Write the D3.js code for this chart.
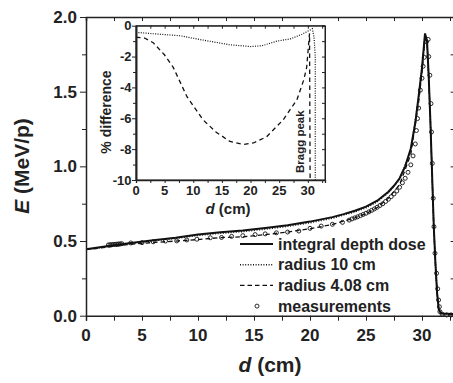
<!DOCTYPE html>
<html lang="en">
<head>
<meta charset="UTF-8">
<title>Depth dose with inset</title>
<script src="https://d3js.org/d3.v7.min.js"></script>
<style>
  body { margin: 0; background: #fff; }
  svg { display: block; font-family: "Liberation Sans", Arial, sans-serif; font-weight: bold; }
  .axis line, .axis path { stroke: #222; }
</style>
</head>
<body>
<svg width="453" height="383"></svg>
<script>
// main panel data: [depth cm, E MeV/p]
const integralDose = [[0,0.445],[2,0.466],[4,0.487],[6,0.505],[8,0.522],[10,0.543],[12,0.558],[14,0.570],[16,0.587],[18,0.606],[20,0.630],[21,0.645],[22,0.660],[23,0.680],[24,0.703],[25,0.730],[26,0.770],[27,0.830],[27.5,0.870],[28,0.920],[28.5,1.0],[29,1.12],[29.4,1.29],[29.7,1.47],[30,1.66],[30.27,1.89],[30.45,1.84],[30.6,1.6],[30.75,1.3],[30.9,0.95],[31.05,0.6],[31.2,0.35],[31.35,0.15],[31.5,0.04],[31.7,0.015],[33,0.01]];
const radius10 = [[0,0.443],[2,0.463],[4,0.484],[6,0.501],[8,0.517],[10,0.537],[12,0.551],[14,0.563],[16,0.579],[18,0.598],[20,0.622],[22,0.652],[24,0.695],[25,0.722],[26,0.762],[27,0.822],[28,0.912],[29,1.11],[29.7,1.46],[30,1.65],[30.27,1.885],[30.45,1.83],[30.6,1.6],[30.75,1.3],[30.9,0.95],[31.05,0.6],[31.2,0.35],[31.35,0.15],[31.5,0.04],[31.7,0.015],[33,0.01]];
const radius408 = [[0,0.442],[2,0.460],[4,0.478],[6,0.490],[8,0.500],[10,0.510],[12,0.523],[14,0.528],[16,0.543],[18,0.560],[20,0.582],[22,0.611],[24,0.655],[25,0.683],[26,0.724],[27,0.787],[28,0.877],[29,1.08],[29.7,1.43],[30,1.63],[30.27,1.87],[30.45,1.83],[30.6,1.6],[30.75,1.3],[30.9,0.95],[31.05,0.6],[31.2,0.35],[31.35,0.15],[31.5,0.04],[31.7,0.015],[33,0.01]];
const measured = [[2.0,0.474],[2.15,0.475],[2.3,0.476],[2.45,0.477],[2.6,0.478],[2.75,0.479],[2.9,0.480],[3.05,0.481],[3.2,0.482],[4.0,0.487],[5.0,0.489],[6.0,0.495],[7.1,0.500],[8.1,0.501],[9.0,0.507],[9.9,0.512],[11.1,0.522],[12.1,0.524],[13.0,0.531],[14.0,0.536],[15.1,0.543],[16.0,0.548],[17.0,0.555],[18.0,0.560],[19.0,0.567],[20.0,0.585],[21.0,0.600],[22.0,0.612],[22.9,0.625],[23.5,0.640],[23.75,0.648],[24,0.655],[24.25,0.662],[24.5,0.670],[24.75,0.678],[25,0.686],[25.25,0.695],[25.5,0.705],[25.75,0.715],[26,0.726],[26.25,0.738],[26.5,0.750],[26.75,0.765],[27,0.780],[27.25,0.797],[27.5,0.815],[27.75,0.835],[28,0.860],[28.25,0.890],[28.5,0.920],[28.75,0.960],[29,1.01],[29.2,1.07],[29.4,1.15],[29.5,1.24],[29.6,1.32],[29.7,1.39],[29.85,1.51],[30,1.59],[30.1,1.67],[30.2,1.73],[30.4,1.835],[30.55,1.85],[30.6,1.735],[30.7,1.61],[30.8,1.42],[30.85,1.23],[30.92,1.02],[31.0,0.786],[31.07,0.596],[31.16,0.418],[31.3,0.284],[31.4,0.18],[31.48,0.105],[31.55,0.06],[31.6,0.027],[31.8,0.01],[32.2,0.005],[32.6,0.005]];

// inset data: [depth cm, % difference]
const diffRadius10 = [[0,-0.43],[3,-0.52],[7.7,-0.65],[11.2,-0.9],[16.4,-1.24],[20,-1.35],[22,-1.3],[24.6,-1.0],[27,-0.85],[29,-0.55],[30.4,-0.28],[30.8,-0.2],[31.1,-0.8],[31.3,-2],[31.3,-10]];
const diffRadius408 = [[0,-0.75],[1.5,-0.8],[3,-1.1],[5,-1.9],[6.5,-2.7],[8.9,-4.6],[11.7,-6.1],[14,-6.9],[16.4,-7.5],[18.7,-7.7],[20.5,-7.6],[22.8,-7.2],[25.7,-6.1],[28.1,-4.8],[29.3,-3.5],[29.8,-2.7],[30.3,-0.5],[30.4,-10]];

const legendLabels = ["integral depth dose", "radius 10 cm", "radius 4.08 cm", "measurements"];

const svg = d3.select("svg");

// main panel
const x = d3.scaleLinear().domain([0, 33]).range([86, 455.6]);
const y = d3.scaleLinear().domain([0, 2]).range([315.7, 17]);

const line = d3.line().x(d => x(d[0])).y(d => y(d[1]));

const styles = [
  { data: integralDose, width: 2, dash: null },
  { data: radius10, width: 1.4, dash: "1,1.6" },
  { data: radius408, width: 1.3, dash: "4.5,3" }
];

styles.forEach(s => {
  svg.append("path").datum(s.data)
    .attr("d", line)
    .attr("fill", "none")
    .attr("stroke", "#111")
    .attr("stroke-width", s.width)
    .attr("stroke-dasharray", s.dash);
});

svg.append("g").selectAll("circle")
  .data(measured)
  .enter().append("circle")
  .attr("cx", d => x(d[0]))
  .attr("cy", d => y(d[1]))
  .attr("r", 2)
  .attr("fill", "none")
  .attr("stroke", "#111")
  .attr("stroke-width", 0.9);

// axes for main panel
const xTicks = d3.range(0, 33, 5);
const xMinor = d3.range(0, 33.1, 2.5);
const yTicks = d3.range(0, 2.01, 0.5);
const yMinor = d3.range(0, 2.01, 0.25);

const gx = svg.append("g").attr("class", "axis").attr("transform", `translate(0,${y(0)})`)
  .call(d3.axisBottom(x).tickValues(xMinor).tickSize(5).tickFormat(""));
gx.select(".domain").attr("stroke-width", 1.5);
svg.append("g").attr("transform", `translate(0,${y(0)})`)
  .selectAll("text").data(xTicks).enter().append("text")
  .attr("x", d => x(d)).attr("y", 25)
  .attr("text-anchor", "middle")
  .attr("font-size", 17).attr("fill", "#222")
  .text(d => d);

const gy = svg.append("g").attr("class", "axis").attr("transform", `translate(${x(0)},0)`)
  .call(d3.axisLeft(y).tickValues(yMinor).tickSize(0).tickFormat(""));
gy.select(".domain").attr("stroke-width", 1.5);
gy.selectAll(".tick line").attr("x2", (d, i) => i % 2 === 0 ? -6 : -4);
svg.append("g").selectAll("text").data(yTicks).enter().append("text")
  .attr("x", 77).attr("y", d => y(d) + 6)
  .attr("text-anchor", "end")
  .attr("font-size", 17).attr("fill", "#222")
  .text(d => d3.format(".1f")(d));

const gtop = svg.append("g").attr("class", "axis").attr("transform", `translate(0,${y(2)})`)
  .call(d3.axisBottom(x).tickValues(xMinor).tickSize(4).tickFormat(""));
gtop.select(".domain").attr("stroke-width", 1.5);

svg.append("g").attr("class", "axis").attr("transform", `translate(${x(33)},0)`)
  .call(d3.axisLeft(y).tickValues(yMinor).tickSize(5).tickFormat(""));

// axis titles
const xTitle = svg.append("text")
  .attr("x", 270).attr("y", 372)
  .attr("text-anchor", "middle")
  .attr("font-size", 21).attr("fill", "#222");
xTitle.append("tspan").attr("font-style", "italic").text("d");
xTitle.append("tspan").text(" (cm)");

const yTitle = svg.append("text")
  .attr("transform", "translate(29,166) rotate(-90)")
  .attr("text-anchor", "middle")
  .attr("font-size", 21).attr("fill", "#222");
yTitle.append("tspan").attr("font-style", "italic").text("E");
yTitle.append("tspan").text(" (MeV/p)");

// legend
const legend = svg.append("g");
legendLabels.forEach((label, i) => {
  const ly = 244 + i * 20.7;
  if (i < 3) {
    legend.append("line")
      .attr("x1", 240).attr("x2", 273).attr("y1", ly).attr("y2", ly)
      .attr("stroke", "#111")
      .attr("stroke-width", styles[i].width)
      .attr("stroke-dasharray", styles[i].dash);
  } else {
    legend.append("circle").attr("cx", 257).attr("cy", ly).attr("r", 2)
      .attr("fill", "none").attr("stroke", "#111").attr("stroke-width", 0.9);
  }
  legend.append("text")
    .attr("x", 278).attr("y", ly + 5.5)
    .attr("font-size", 16).attr("fill", "#222")
    .text(label);
});

// inset panel
const ix = d3.scaleLinear().domain([0, 33]).range([136, 325]);
const iy = d3.scaleLinear().domain([-10, 0]).range([180, 25.7]);
const iline = d3.line().x(d => ix(d[0])).y(d => iy(d[1]));

svg.append("rect")
  .attr("x", ix(0)).attr("y", iy(0))
  .attr("width", ix(33) - ix(0)).attr("height", iy(-10) - iy(0))
  .attr("fill", "#fff").attr("stroke", "#222").attr("stroke-width", 1);

svg.append("path").datum(diffRadius10)
  .attr("d", iline).attr("fill", "none")
  .attr("stroke", "#111").attr("stroke-width", 1.2).attr("stroke-dasharray", "1,1.4");
svg.append("path").datum(diffRadius408)
  .attr("d", iline).attr("fill", "none")
  .attr("stroke", "#111").attr("stroke-width", 1.3).attr("stroke-dasharray", "4.5,3.5");

const ixTicks = d3.range(0, 31, 5);
const ixMinor = d3.range(0, 33.1, 2.5);
const iyTicks = d3.range(-10, 0.1, 2);
const iyMinor = d3.range(-10, 0.1, 1);

svg.append("g").attr("class", "axis").attr("transform", `translate(0,${iy(-10)})`)
  .call(d3.axisBottom(ix).tickValues(ixMinor).tickSize(3).tickFormat(""))
  .select(".domain").attr("stroke-width", 1.3);
svg.append("g").attr("class", "axis").attr("transform", `translate(0,${iy(0)})`)
  .call(d3.axisBottom(ix).tickValues(ixMinor).tickSize(3).tickFormat(""));
const giy = svg.append("g").attr("class", "axis").attr("transform", `translate(${ix(0)},0)`)
  .call(d3.axisLeft(iy).tickValues(iyMinor).tickSize(0).tickFormat(""));
giy.select(".domain").attr("stroke", "#666").attr("stroke-width", 2);
giy.selectAll(".tick line").attr("x2", (d, i) => i % 2 === 0 ? -4 : -3);
svg.append("g").attr("class", "axis").attr("transform", `translate(${ix(33)},0)`)
  .call(d3.axisLeft(iy).tickValues(iyMinor).tickSize(3).tickFormat(""));

svg.append("g").selectAll("text").data(ixTicks).enter().append("text")
  .attr("x", d => ix(d)).attr("y", 195)
  .attr("text-anchor", "middle")
  .attr("font-size", 13).attr("fill", "#222")
  .text(d => d);
svg.append("g").selectAll("text").data(iyTicks).enter().append("text")
  .attr("x", 131.5).attr("y", d => iy(d) + 4.5)
  .attr("text-anchor", "end")
  .attr("font-size", 13).attr("fill", "#222")
  .text(d => d);

const ixTitle = svg.append("text")
  .attr("x", 228).attr("y", 214)
  .attr("text-anchor", "middle")
  .attr("font-size", 15).attr("fill", "#222");
ixTitle.append("tspan").attr("font-style", "italic").text("d");
ixTitle.append("tspan").text(" (cm)");

svg.append("text")
  .attr("transform", "translate(111,112) rotate(-90)")
  .attr("text-anchor", "middle")
  .attr("font-size", 14).attr("fill", "#222")
  .text("% difference");

svg.append("text")
  .attr("transform", "translate(304,173) rotate(-90)")
  .attr("font-size", 11.5).attr("fill", "#222")
  .text("Bragg peak");
</script>
</body>
</html>
